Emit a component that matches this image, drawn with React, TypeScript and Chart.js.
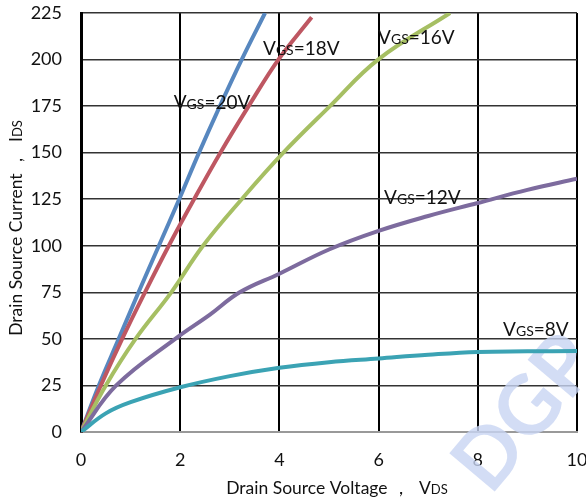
import React, { useEffect, useRef } from "react";
import { Chart, registerables } from "chart.js";

Chart.register(...registerables);

// Drain-source voltage (V) and current (A) samples for each gate voltage curve
const vds20 = [0, 0.36, 0.76, 1.16, 1.57, 1.98, 2.38, 2.8, 3.24, 3.71];
const ids20 = [0, 25, 50, 75, 100, 125, 150, 175, 200, 225];
const vds18 = [0, 0.4, 0.83, 1.29, 1.77, 2.28, 2.81, 3.38, 3.98, 4.65];
const ids18 = [0, 25, 50, 75, 100, 125, 150, 175, 200, 222.7];
const vds16 = [0, 0.5, 1.1, 1.82, 2.46, 3.24, 4.08, 5.02, 5.99, 7.44];
const ids16 = [0, 25, 50, 75, 100, 125, 150, 175, 200, 225];
const vds12 = [0, 0.71, 1.9, 2.6, 3.2, 4, 5, 6, 7, 8, 9, 10];
const ids12 = [0, 25, 50, 63, 75, 85, 98, 108, 116, 123, 130, 136];
const vds8 = [0, 0.5, 1, 2, 3, 4, 5, 6, 7, 8, 9, 10];
const ids8 = [0, 10, 16, 24, 30, 34.5, 37.5, 39.5, 41.5, 43, 43.3, 43.5];

const xTicks = [0, 2, 4, 6, 8, 10];
const yTicks = [0, 25, 50, 75, 100, 125, 150, 175, 200, 225];

// Curve labels (VGS values) and the data coordinates where they sit
const curveLabels = ["20V", "18V", "16V", "12V", "8V"];
const curveLabelX = [1.87, 3.67, 5.99, 6.11, 8.51];
const curveLabelY = [177, 206, 212, 126, 55.3];

const xTitleMain = "Drain Source Voltage \uFF0C  V";
const xTitleSub = "DS";
const yTitleMain = "Drain Source Current \uFF0C  I";
const yTitleSub = "DS";
const watermark = "DGP";

const FONT = "Lato, 'Open Sans', sans-serif";

type Run = { t: string; size: number };

function runsWidth(ctx: CanvasRenderingContext2D, runs: Run[]) {
  let w = 0;
  for (const r of runs) {
    ctx.font = `${r.size}px ${FONT}`;
    w += ctx.measureText(r.t).width;
  }
  return w;
}

function drawRuns(ctx: CanvasRenderingContext2D, runs: Run[], x: number, baseline: number) {
  let cx = x;
  ctx.textBaseline = "alphabetic";
  ctx.textAlign = "left";
  for (const r of runs) {
    ctx.font = `${r.size}px ${FONT}`;
    ctx.fillText(r.t, cx, baseline);
    cx += ctx.measureText(r.t).width;
  }
}

const zip = (xs: number[], ys: number[]) => xs.map((x, i) => ({ x, y: ys[i] }));

export default function App() {
  const ref = useRef<HTMLCanvasElement | null>(null);

  useEffect(() => {
    document.body.style.margin = "0";
    const canvas = ref.current!;
    const textPlugin = {
      id: "texts",
      beforeDatasetsDraw(chart: any) {
        const ctx = chart.ctx as CanvasRenderingContext2D;
        ctx.save();
        ctx.translate(500, 444);
        ctx.rotate((-50 * Math.PI) / 180);
        ctx.font = `bold 82px ${FONT}`;
        ctx.fillStyle = "rgba(200,212,242,0.8)";
        ctx.textBaseline = "middle";
        ctx.textAlign = "center";
        ctx.fillText(watermark, 40, 0);
        ctx.restore();
      },
      afterDatasetsDraw(chart: any) {
        const ctx = chart.ctx as CanvasRenderingContext2D;
        const xs = chart.scales.x;
        const ys = chart.scales.y;
        ctx.save();
        ctx.fillStyle = "#111";
        curveLabels.forEach((lab, i) => {
          const px = xs.getPixelForValue(curveLabelX[i]);
          const py = ys.getPixelForValue(curveLabelY[i]);
          drawRuns(ctx, [
            { t: "V", size: 19 },
            { t: "GS", size: 14 },
            { t: "=" + lab, size: 19 },
          ], px, py + 7);
        });
        // x title
        const xr: Run[] = [{ t: xTitleMain, size: 17.5 }, { t: xTitleSub, size: 13 }];
        const xw = runsWidth(ctx, xr);
        drawRuns(ctx, xr, 337 - xw / 2, 494);
        // y title
        const yr: Run[] = [{ t: yTitleMain, size: 17.5 }, { t: yTitleSub, size: 13 }];
        const yw = runsWidth(ctx, yr);
        ctx.translate(16, 228);
        ctx.rotate(-Math.PI / 2);
        drawRuns(ctx, yr, -yw / 2, 6);
        ctx.restore();
      },
    };

    const mk = (xs: number[], ys: number[], color: string) => ({
      data: zip(xs, ys),
      borderColor: color,
      backgroundColor: color,
      borderWidth: 4,
      pointRadius: 0,
      showLine: true,
      fill: false,
      tension: 0.4,
    });

    const chart = new Chart(canvas, {
      type: "scatter",
      data: {
        datasets: [
          mk(vds8, ids8, "#3ba3b4"),
          mk(vds12, ids12, "#7d6b9e"),
          mk(vds16, ids16, "#a6bf63"),
          mk(vds18, ids18, "#be5762"),
          mk(vds20, ids20, "#5787bf"),
        ],
      },
      options: {
        responsive: false,
        animation: false,
        layout: { padding: { top: 13, right: 9, left: 0, bottom: 0 } },
        plugins: { legend: { display: false }, tooltip: { enabled: false } },
        scales: {
          x: {
            type: "linear",
            min: 0,
            max: 10,
            afterBuildTicks: (s: any) => {
              s.ticks = xTicks.map((v) => ({ value: v }));
            },
            afterFit: (s: any) => {
              s.height = 70;
              s.paddingLeft = 0;
              s.paddingRight = 0;
            },
            ticks: {
              font: { family: FONT, size: 18 },
              color: "#111",
              padding: 17,
              maxRotation: 0,
            },
            grid: { color: "#000", lineWidth: 2, drawTicks: false },
            border: { display: true, color: "#999", width: 2 },
          },
          y: {
            type: "linear",
            min: 0,
            max: 225,
            afterBuildTicks: (s: any) => {
              s.ticks = yTicks.map((v) => ({ value: v }));
            },
            afterFit: (s: any) => {
              s.width = 81;
              s.paddingTop = 0;
              s.paddingBottom = 0;
            },
            ticks: {
              font: { family: FONT, size: 18 },
              color: "#111",
              padding: 19,
            },
            grid: {
              color: (c: any) => (c.tick && c.tick.value === 0 ? "#999" : "#333"),
              lineWidth: 1.5,
              drawTicks: false,
            },
            border: { display: true, color: "#000", width: 3 },
          },
        },
      },
      plugins: [textPlugin],
    } as any);
    return () => chart.destroy();
  }, []);

  return (
    <div style={{ width: 586, height: 502 }}>
      <canvas ref={ref} width={586} height={502} />
    </div>
  );
}
